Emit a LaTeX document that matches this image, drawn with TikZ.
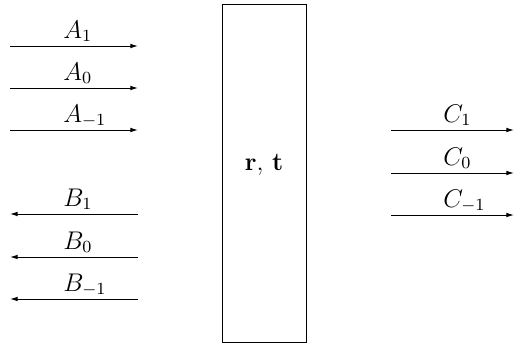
\documentclass[tikz,border=0pt]{standalone}
\usetikzlibrary{arrows.meta}
\begin{document}
\begin{tikzpicture}[x=0.47pt,y=-0.47pt,
  conn/.style={line width=0.47pt,-{Latex[length=3.6pt,width=2.2pt]}},
  lbl/.style={anchor=base west,inner sep=0pt,font=\large}]
\useasboundingbox (0,0) rectangle (514,343);
\node[draw,line width=0.47pt,minimum width=84*0.47pt,minimum height=338*0.47pt,inner sep=0pt] (box) at (264,173) {};
\node[font=\large] (rt) at (264,165) {$\mathbf{r},\,\mathbf{t}$};
% A arrows
\foreach \n/\s/\y in {a1/1/46,a0/0/88,am/{-1}/130}{
  \coordinate (\n s) at (10,\y);
  \coordinate (\n e) at (138,\y);
  \draw[conn] (\n s) -- (\n e);
  \node[lbl] (\n l) at (63,\y-8) {$A_{\s}$};
}
\foreach \n/\s/\y in {b1/1/214,b0/0/257,bm/{-1}/299}{
  \coordinate (\n s) at (138,\y);
  \coordinate (\n e) at (10,\y);
  \draw[conn] (\n s) -- (\n e);
  \node[lbl] (\n l) at (63,\y-8) {$B_{\s}$};
}
\foreach \n/\s/\y in {c1/1/130,c0/0/173,cm/{-1}/215}{
  \coordinate (\n s) at (391,\y);
  \coordinate (\n e) at (514,\y);
  \draw[conn] (\n s) -- (\n e);
  \node[lbl] (\n l) at (443,\y-8) {$C_{\s}$};
}
\end{tikzpicture}
\end{document}
